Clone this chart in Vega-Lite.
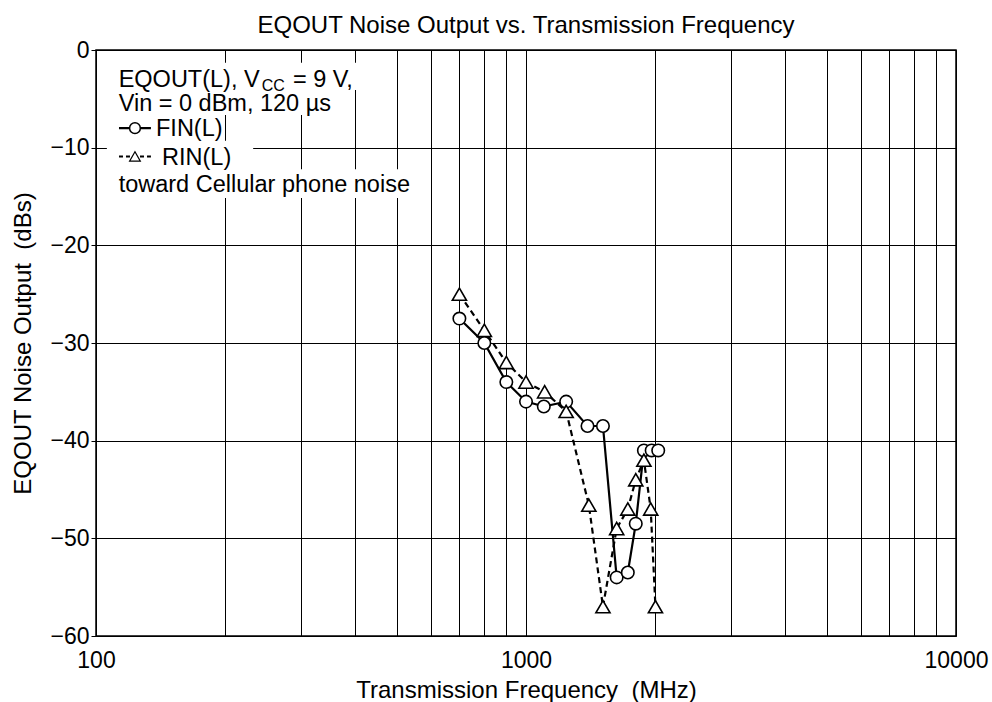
{
  "$schema": "https://vega.github.io/schema/vega-lite/v6.json",
  "width": 860,
  "height": 586,
  "autosize": {"type": "none"},
  "padding": {"left": 96, "right": 36, "top": 50, "bottom": 66},
  "background": "white",
  "config": {
    "font": "Liberation Sans",
    "view": {"stroke": "black", "strokeWidth": 1.5},
    "axis": {
      "domainColor": "black",
      "gridColor": "black",
      "gridWidth": 1,
      "gridOpacity": 1,
      "tickColor": "black",
      "labelColor": "black",
      "titleColor": "black",
      "labelFont": "Liberation Sans",
      "titleFont": "Liberation Sans",
      "titleFontWeight": "normal"
    },
    "title": {"font": "Liberation Sans", "fontWeight": "normal", "color": "black"}
  },
  "title": {"text": "EQOUT Noise Output vs. Transmission Frequency", "fontSize": 24, "offset": 1, "anchor": "middle", "frame": "group"},
  "datasets": {
    "curves": [
      {"freq": 700, "dbs": -27.5, "series": "FIN(L)"},
      {"freq": 800, "dbs": -30, "series": "FIN(L)"},
      {"freq": 900, "dbs": -34, "series": "FIN(L)"},
      {"freq": 1000, "dbs": -36, "series": "FIN(L)"},
      {"freq": 1100, "dbs": -36.5, "series": "FIN(L)"},
      {"freq": 1240, "dbs": -36, "series": "FIN(L)"},
      {"freq": 1390, "dbs": -38.5, "series": "FIN(L)"},
      {"freq": 1510, "dbs": -38.5, "series": "FIN(L)"},
      {"freq": 1625, "dbs": -54, "series": "FIN(L)"},
      {"freq": 1725, "dbs": -53.5, "series": "FIN(L)"},
      {"freq": 1800, "dbs": -48.5, "series": "FIN(L)"},
      {"freq": 1880, "dbs": -41, "series": "FIN(L)"},
      {"freq": 1960, "dbs": -41, "series": "FIN(L)"},
      {"freq": 2030, "dbs": -41, "series": "FIN(L)"},
      {"freq": 700, "dbs": -25, "series": "RIN(L)"},
      {"freq": 800, "dbs": -28.7, "series": "RIN(L)"},
      {"freq": 900, "dbs": -32, "series": "RIN(L)"},
      {"freq": 1000, "dbs": -34, "series": "RIN(L)"},
      {"freq": 1105, "dbs": -35, "series": "RIN(L)"},
      {"freq": 1240, "dbs": -37, "series": "RIN(L)"},
      {"freq": 1400, "dbs": -46.6, "series": "RIN(L)"},
      {"freq": 1510, "dbs": -57, "series": "RIN(L)"},
      {"freq": 1625, "dbs": -49, "series": "RIN(L)"},
      {"freq": 1725, "dbs": -47, "series": "RIN(L)"},
      {"freq": 1800, "dbs": -44, "series": "RIN(L)"},
      {"freq": 1880, "dbs": -42, "series": "RIN(L)"},
      {"freq": 1950, "dbs": -47, "series": "RIN(L)"},
      {"freq": 2000, "dbs": -57, "series": "RIN(L)"}
    ],
    "boxes": [
      {"f1": 106, "f2": 408, "d1": -1.3, "d2": -4.1},
      {"f1": 106, "f2": 358, "d1": -4.1, "d2": -6.65},
      {"f1": 106, "f2": 198, "d1": -6.65, "d2": -9.3},
      {"f1": 106, "f2": 232, "d1": -9.3, "d2": -12.2},
      {"f1": 106, "f2": 546, "d1": -12.2, "d2": -15.15}
    ],
    "notes": [
      {"t": "EQOUT(L), V", "f": 112.9, "db": -3.82},
      {"t": "= 9 V,", "f": 287, "db": -3.82},
      {"t": "Vin = 0 dBm, 120 µs", "f": 112.9, "db": -6.21},
      {"t": "FIN(L)", "f": 137.9, "db": -8.84},
      {"t": "RIN(L)", "f": 142.4, "db": -11.74},
      {"t": "toward Cellular phone noise", "f": 112.9, "db": -14.54}
    ],
    "subs": [
      {"t": "CC", "f": 243, "db": -4.2}
    ],
    "keys": [
      {"series": "FIN(L)", "fa": 113.1, "fm": 123.2, "fb": 134.2, "db": -8.0},
      {"series": "RIN(L)", "fa": 113.1, "fm": 123.2, "fb": 134.2, "db": -10.9}
    ]
  },
  "layer": [
    {
      "data": {"name": "curves"},
      "transform": [{"filter": "datum.series === 'FIN(L)'"}],
      "mark": {"type": "line", "color": "black", "strokeWidth": 2.2},
      "encoding": {
        "x": {
          "field": "freq", "type": "quantitative",
          "scale": {"type": "log", "domain": [100, 10000], "nice": false},
          "axis": {
            "title": "Transmission Frequency\u00a0 (MHz)",
            "titleFontSize": 24,
            "titlePadding": 6,
            "labelFontSize": 23,
            "labelPadding": 13,
            "ticks": false,
            "domain": false,
            "grid": true,
            "values": [100, 200, 300, 400, 500, 600, 700, 800, 900, 1000, 2000, 3000, 4000, 5000, 6000, 7000, 8000, 9000, 10000],
            "format": "d",
            "labelExpr": "(datum.value === 100 || datum.value === 1000 || datum.value === 10000) ? datum.label : ''",
            "labelOverlap": false,
            "labelFlush": false
          }
        },
        "y": {
          "field": "dbs", "type": "quantitative",
          "scale": {"domain": [-60, 0], "nice": false},
          "axis": {
            "title": "EQOUT Noise Output\u00a0 (dBs)",
            "titleFontSize": 24,
            "titlePadding": 14,
            "labelFontSize": 23,
            "labelPadding": 2,
            "tickSize": 5,
            "domain": false,
            "grid": true,
            "values": [-60, -50, -40, -30, -20, -10, 0]
          }
        }
      }
    },
    {
      "data": {"name": "curves"},
      "transform": [{"filter": "datum.series === 'RIN(L)'"}],
      "mark": {"type": "line", "color": "black", "strokeWidth": 2.2, "strokeDash": [6, 4]},
      "encoding": {
        "x": {"field": "freq", "type": "quantitative"},
        "y": {"field": "dbs", "type": "quantitative"}
      }
    },
    {
      "data": {"name": "curves"},
      "transform": [{"filter": "datum.series === 'FIN(L)'"}],
      "mark": {"type": "point", "shape": "circle", "size": 155, "filled": true, "fill": "white", "stroke": "black", "strokeWidth": 1.6, "opacity": 1},
      "encoding": {
        "x": {"field": "freq", "type": "quantitative"},
        "y": {"field": "dbs", "type": "quantitative"}
      }
    },
    {
      "data": {"name": "curves"},
      "transform": [{"filter": "datum.series === 'RIN(L)'"}],
      "mark": {"type": "point", "shape": "triangle-up", "size": 200, "filled": true, "fill": "white", "stroke": "black", "strokeWidth": 1.6, "opacity": 1},
      "encoding": {
        "x": {"field": "freq", "type": "quantitative"},
        "y": {"field": "dbs", "type": "quantitative"}
      }
    },
    {
      "data": {"name": "boxes"},
      "mark": {"type": "rect", "fill": "white", "stroke": null},
      "encoding": {
        "x": {"field": "f1", "type": "quantitative"},
        "x2": {"field": "f2"},
        "y": {"field": "d1", "type": "quantitative"},
        "y2": {"field": "d2"}
      }
    },
    {
      "data": {"name": "notes"},
      "mark": {"type": "text", "align": "left", "baseline": "alphabetic", "fontSize": 23.5, "font": "Liberation Sans", "color": "black"},
      "encoding": {
        "x": {"field": "f", "type": "quantitative"},
        "y": {"field": "db", "type": "quantitative"},
        "text": {"field": "t"}
      }
    },
    {
      "data": {"name": "subs"},
      "mark": {"type": "text", "align": "left", "baseline": "alphabetic", "fontSize": 16, "font": "Liberation Sans", "color": "black"},
      "encoding": {
        "x": {"field": "f", "type": "quantitative"},
        "y": {"field": "db", "type": "quantitative"},
        "text": {"field": "t"}
      }
    },
    {
      "data": {"name": "keys"},
      "transform": [{"filter": "datum.series === 'FIN(L)'"}],
      "mark": {"type": "rule", "color": "black", "strokeWidth": 2.2},
      "encoding": {
        "x": {"field": "fa", "type": "quantitative"},
        "x2": {"field": "fb"},
        "y": {"field": "db", "type": "quantitative"}
      }
    },
    {
      "data": {"name": "keys"},
      "transform": [{"filter": "datum.series === 'RIN(L)'"}],
      "mark": {"type": "rule", "color": "black", "strokeWidth": 2, "strokeDash": [4, 3]},
      "encoding": {
        "x": {"field": "fa", "type": "quantitative"},
        "x2": {"field": "fb"},
        "y": {"field": "db", "type": "quantitative"}
      }
    },
    {
      "data": {"name": "keys"},
      "transform": [{"filter": "datum.series === 'FIN(L)'"}],
      "mark": {"type": "point", "shape": "circle", "size": 115, "filled": true, "fill": "white", "stroke": "black", "strokeWidth": 1.5, "opacity": 1},
      "encoding": {
        "x": {"field": "fm", "type": "quantitative"},
        "y": {"field": "db", "type": "quantitative"}
      }
    },
    {
      "data": {"name": "keys"},
      "transform": [{"filter": "datum.series === 'RIN(L)'"}],
      "mark": {"type": "point", "shape": "triangle-up", "size": 115, "filled": true, "fill": "white", "stroke": "black", "strokeWidth": 1.2, "opacity": 1},
      "encoding": {
        "x": {"field": "fm", "type": "quantitative"},
        "y": {"field": "db", "type": "quantitative"}
      }
    }
  ]
}
